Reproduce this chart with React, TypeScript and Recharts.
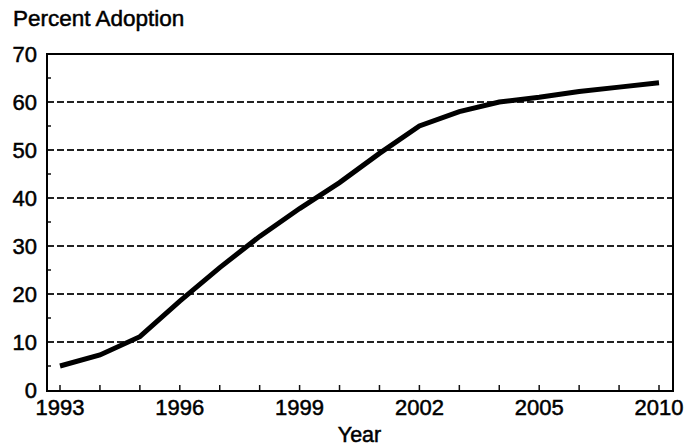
import { LineChart, Line, XAxis, YAxis, ReferenceLine } from "recharts"

const years = [
  "1993", "1994", "1995", "1996", "1997", "1998", "1999", "2000",
  "2001", "2002", "2003", "2004", "2005", "2006", "2008", "2010",
]
const adoption = [5, 7.3, 11.1, 18.5, 25.5, 32, 37.8, 43.2, 49.3, 55, 58, 60, 61, 62.2, 63.1, 64]
const yearLabels = ["1993", "1996", "1999", "2002", "2005", "2010"]
const yTicks = [0, 5, 10, 15, 20, 25, 30, 35, 40, 45, 50, 55, 60, 65, 70]
const yLabels = [0, 10, 20, 30, 40, 50, 60, 70]
const gridValues = [10, 20, 30, 40, 50, 60]

const data = years.map((year, i) => ({ year, value: adoption[i] }))

const font = "'Liberation Sans', Arial, sans-serif"

function XTick(props: any) {
  const { x, y, payload } = props
  const show = yearLabels.includes(payload.value)
  return (
    <g>
      <line x1={x} x2={x} y1={y} y2={y - 5} stroke="#111" strokeWidth={1.5} />
      {show && (
        <text
          x={x}
          y={y + 25}
          textAnchor="middle"
          fontSize={22}
          fontFamily={font}
          fill="#000"
          stroke="#000"
          strokeWidth={0.5}
        >
          {payload.value}
        </text>
      )}
    </g>
  )
}

function YTick(props: any) {
  const { x, y, payload } = props
  const show = yLabels.includes(payload.value)
  return (
    <g>
      {!show && <line x1={x} x2={x + 4} y1={y} y2={y} stroke="#111" strokeWidth={1.5} />}
      {show && (
        <text
          x={x - 10}
          y={y + 8}
          textAnchor="end"
          fontSize={22}
          fontFamily={font}
          fill="#000"
          stroke="#000"
          strokeWidth={0.5}
        >
          {payload.value}
        </text>
      )}
    </g>
  )
}

export default function App() {
  return (
    <div style={{ position: "absolute", left: 0, top: 0, width: 685, height: 447, background: "#fff" }}>
      <div
        style={{
          position: "absolute",
          left: 13,
          top: 8,
          fontFamily: font,
          fontSize: 22.5,
          lineHeight: "22px",
          color: "#000",
          whiteSpace: "nowrap",
          WebkitTextStroke: "0.5px #000",
        }}
      >
        Percent Adoption
      </div>
      <LineChart width={685} height={447} data={data} margin={{ top: 54, right: 13, bottom: 0, left: 0 }}>
        <XAxis
          dataKey="year"
          height={57}
          padding={{ left: 13, right: 13 }}
          interval={0}
          tickSize={0}
          tickMargin={0}
          tickLine={false}
          tick={<XTick />}
          axisLine={false}
          label={{
            value: "Year",
            position: "insideBottom",
            offset: 5,
            fontSize: 21.5,
            fontFamily: font,
            fill: "#000",
            stroke: "#000",
            strokeWidth: 0.5,
          }}
        />
        <YAxis
          width={47}
          domain={[0, 70]}
          ticks={yTicks}
          interval={0}
          tickSize={0}
          tickMargin={0}
          tickLine={false}
          tick={<YTick />}
          axisLine={false}
        />
        {gridValues.map((v) => (
          <ReferenceLine key={v} y={v} stroke="#222" strokeWidth={2} strokeDasharray="7 3" />
        ))}
        <Line
          dataKey="value"
          type="linear"
          stroke="#000"
          strokeWidth={5}
          dot={false}
          isAnimationActive={false}
        />
      </LineChart>
      <div
        style={{
          position: "absolute",
          left: 46,
          top: 53,
          width: 624,
          height: 335,
          border: "2px solid #000",
          pointerEvents: "none",
        }}
      />
    </div>
  )
}
